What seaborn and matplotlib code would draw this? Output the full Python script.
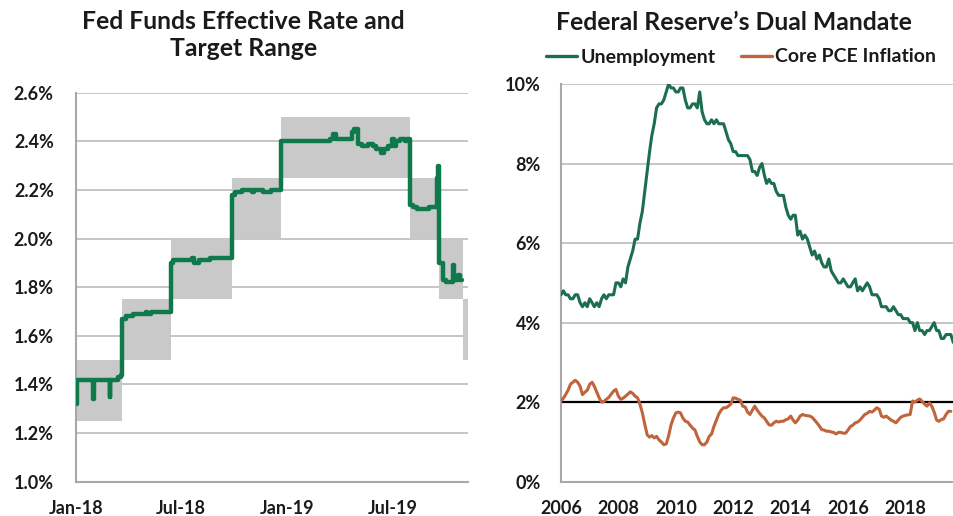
import numpy as np
import pandas as pd
import matplotlib
matplotlib.use("Agg")
import matplotlib.pyplot as plt
import matplotlib.dates as mdates
from matplotlib.ticker import FuncFormatter, MultipleLocator
from matplotlib.lines import Line2D
import seaborn as sns

# ---------------- data: left panel ----------------
effr_dates = [
    "2018-01-02", "2018-01-03", "2018-01-31", "2018-02-01", "2018-02-28", "2018-03-01",
    "2018-03-14", "2018-03-19", "2018-03-22", "2018-03-28", "2018-04-10", "2018-05-01",
    "2018-05-03", "2018-05-10", "2018-06-14", "2018-06-18", "2018-07-02", "2018-07-20",
    "2018-07-23", "2018-08-01", "2018-08-20", "2018-08-31", "2018-09-27", "2018-10-02",
    "2018-10-15", "2018-11-01", "2018-11-05", "2018-11-20", "2018-12-03", "2018-12-20",
    "2019-03-15", "2019-03-20", "2019-03-25", "2019-04-22", "2019-04-26", "2019-05-02",
    "2019-05-10", "2019-05-20", "2019-05-28", "2019-06-03", "2019-06-12", "2019-06-17",
    "2019-06-24", "2019-07-01", "2019-07-03", "2019-07-08", "2019-07-15", "2019-07-22",
    "2019-07-26", "2019-08-01", "2019-08-05", "2019-08-12", "2019-09-03", "2019-09-16",
    "2019-09-17", "2019-09-19", "2019-09-27", "2019-10-01", "2019-10-14", "2019-10-15",
    "2019-10-22", "2019-10-25", "2019-10-29",
]
effr_values = [
    1.32, 1.42, 1.34, 1.42, 1.35, 1.42,
    1.43, 1.44, 1.67, 1.68, 1.69, 1.70,
    1.69, 1.70, 1.90, 1.91, 1.91, 1.92,
    1.90, 1.91, 1.92, 1.92, 2.18, 2.19,
    2.20, 2.19, 2.20, 2.19, 2.20, 2.40,
    2.41, 2.43, 2.41, 2.44, 2.45, 2.39,
    2.38, 2.39, 2.38, 2.37, 2.35, 2.37,
    2.38, 2.41, 2.38, 2.40, 2.41, 2.40,
    2.41, 2.14, 2.13, 2.12, 2.13, 2.25,
    2.30, 1.90, 1.83, 1.82, 1.89, 1.83,
    1.85, 1.83, 1.83,
]
range_start = ["2018-01-01", "2018-03-22", "2018-06-14", "2018-09-27",
               "2018-12-20", "2019-08-01", "2019-09-19", "2019-10-31"]
range_low = [1.25, 1.50, 1.75, 2.00, 2.25, 2.00, 1.75, 1.50]
range_high = [1.50, 1.75, 2.00, 2.25, 2.50, 2.25, 2.00, 1.75]
left_end = "2019-11-08"
left_ticks = ["2018-01-01", "2018-07-01", "2019-01-01", "2019-07-01"]

# ---------------- data: right panel ----------------
unemployment = [
    4.7, 4.8, 4.7, 4.7, 4.6, 4.6, 4.7, 4.7, 4.5, 4.4, 4.5, 4.4,
    4.6, 4.5, 4.4, 4.5, 4.4, 4.6, 4.7, 4.6, 4.7, 4.7, 4.7, 5.0,
    5.0, 4.9, 5.1, 5.0, 5.4, 5.6, 5.8, 6.1, 6.1, 6.5, 6.8, 7.3,
    7.8, 8.3, 8.7, 9.0, 9.4, 9.5, 9.5, 9.6, 9.8, 10.0, 9.9, 9.9,
    9.8, 9.8, 9.9, 9.9, 9.6, 9.4, 9.4, 9.5, 9.5, 9.4, 9.8, 9.3,
    9.1, 9.0, 9.0, 9.1, 9.0, 9.1, 9.0, 9.0, 9.0, 8.8, 8.6, 8.5,
    8.3, 8.3, 8.2, 8.2, 8.2, 8.2, 8.2, 8.1, 7.8, 7.8, 7.7, 7.9,
    8.0, 7.7, 7.5, 7.6, 7.5, 7.5, 7.3, 7.2, 7.2, 7.2, 6.9, 6.7,
    6.6, 6.7, 6.7, 6.2, 6.3, 6.1, 6.2, 6.1, 5.9, 5.7, 5.8, 5.6,
    5.7, 5.5, 5.4, 5.4, 5.6, 5.3, 5.2, 5.1, 5.0, 5.0, 5.1, 5.0,
    4.9, 4.9, 5.0, 5.1, 4.8, 4.9, 4.8, 4.9, 5.0, 4.9, 4.7, 4.7,
    4.7, 4.6, 4.4, 4.4, 4.4, 4.3, 4.3, 4.4, 4.3, 4.2, 4.2, 4.1,
    4.1, 4.1, 4.0, 4.0, 3.8, 4.0, 3.8, 3.8, 3.7, 3.8, 3.8, 3.9,
    4.0, 3.8, 3.8, 3.6, 3.6, 3.7, 3.7, 3.7, 3.5,
]
core_pce = [
    2.03, 2.10, 2.19, 2.30, 2.45, 2.50, 2.55, 2.50, 2.40, 2.19, 2.25, 2.30,
    2.45, 2.50, 2.40, 2.25, 2.11, 2.00, 2.02, 2.07, 2.12, 2.20, 2.28, 2.32,
    2.15, 2.07, 2.10, 2.15, 2.20, 2.26, 2.22, 2.15, 2.11, 1.95, 1.73, 1.45,
    1.18, 1.12, 1.16, 1.10, 1.14, 1.05, 1.00, 0.93, 0.95, 1.15, 1.43, 1.60,
    1.73, 1.75, 1.73, 1.60, 1.52, 1.50, 1.42, 1.35, 1.30, 1.14, 1.00, 0.93,
    0.93, 1.00, 1.14, 1.20, 1.39, 1.55, 1.70, 1.80, 1.86, 1.86, 1.90, 1.95,
    2.11, 2.10, 2.07, 2.05, 1.90, 1.88, 1.75, 1.69, 1.80, 1.90, 1.80, 1.72,
    1.65, 1.60, 1.52, 1.43, 1.42, 1.48, 1.52, 1.50, 1.52, 1.52, 1.56, 1.58,
    1.65, 1.55, 1.48, 1.55, 1.65, 1.69, 1.67, 1.66, 1.65, 1.62, 1.55, 1.48,
    1.40, 1.31, 1.30, 1.27, 1.27, 1.25, 1.24, 1.20, 1.24, 1.24, 1.22, 1.22,
    1.30, 1.39, 1.42, 1.48, 1.50, 1.55, 1.62, 1.69, 1.72, 1.77, 1.75, 1.80,
    1.86, 1.82, 1.65, 1.62, 1.65, 1.60, 1.55, 1.52, 1.48, 1.55, 1.62, 1.65,
    1.67, 1.68, 1.69, 2.03, 2.00, 2.05, 2.08, 2.02, 1.95, 1.90, 1.98, 1.90,
    1.75, 1.55, 1.52, 1.56, 1.58, 1.69, 1.77, 1.77,
]
inflation_target = 2.0
right_start = "2006-01-01"
right_end = "2019-09-10"
right_tick_years = [2006, 2008, 2010, 2012, 2014, 2016, 2018]

# ---------------- style ----------------
GREEN_L = "#0e7a4c"
GREEN_R = "#1b6e4e"
ORANGE = "#c0643c"
RANGE_GRAY = "#c9c9c9"
GRID = "#b5b5b5"
SPINE = "#a8a8a8"
TXT = "#1a1a1a"

sns.set_theme(style="white")
plt.rcParams["font.family"] = ["Lato", "DejaVu Sans"]
plt.rcParams["font.weight"] = "bold"

fig = plt.figure(figsize=(9.54, 5.16), dpi=100)
ax1 = fig.add_axes([76 / 954, 34.3 / 516, 391.7 / 954, 389 / 516])
ax2 = fig.add_axes([561 / 954, 34.3 / 516, 393 / 954, 397.7 / 516])

# ---------- left ----------
effr = pd.DataFrame({"date": pd.to_datetime(effr_dates), "rate": effr_values})
starts = pd.to_datetime(range_start)
ends = list(starts[1:]) + [pd.Timestamp(left_end)]
for s, e, lo, hi in zip(starts, ends, range_low, range_high):
    ax1.fill_between([s, e], lo, hi, color=RANGE_GRAY, lw=0, zorder=1)
sns.lineplot(data=effr, x="date", y="rate", ax=ax1, color=GREEN_L, lw=3.2,
             drawstyle="steps-post", zorder=3, solid_joinstyle="round",
             solid_capstyle="round")
ax1.set_xlim(pd.Timestamp("2018-01-01"), pd.Timestamp(left_end))
ax1.set_ylim(1.0, 2.6)
ax1.yaxis.set_major_locator(MultipleLocator(0.2))
ax1.yaxis.set_major_formatter(FuncFormatter(lambda v, p: f"{v:.1f}%"))
ax1.set_xticks(pd.to_datetime(left_ticks))
ax1.xaxis.set_major_formatter(mdates.DateFormatter("%b-%y"))

# ---------- right ----------
months = pd.date_range(right_start, periods=len(unemployment), freq="MS")
df_u = pd.DataFrame({"date": months, "value": unemployment})
df_p = pd.DataFrame({"date": months[:len(core_pce)], "value": core_pce})
ax2.axhline(inflation_target, color="black", lw=1.6, zorder=2)
sns.lineplot(data=df_u, x="date", y="value", ax=ax2, color=GREEN_R, lw=2.2, zorder=3)
sns.lineplot(data=df_p, x="date", y="value", ax=ax2, color=ORANGE, lw=2.2, zorder=3)
ax2.set_xlim(pd.Timestamp(right_start), pd.Timestamp(right_end))
ax2.set_ylim(0, 10)
ax2.yaxis.set_major_locator(MultipleLocator(2))
ax2.yaxis.set_major_formatter(FuncFormatter(lambda v, p: f"{v:.0f}%"))
ax2.set_xticks([pd.Timestamp(f"{y}-01-01") for y in right_tick_years])
ax2.xaxis.set_major_formatter(mdates.DateFormatter("%Y"))

for ax, ypad in ((ax1, 11), (ax2, 9.5)):
    ax.set_xlabel("")
    ax.set_ylabel("")
    ax.set_axisbelow(True)
    ax.grid(axis="y", color=GRID, lw=1.1)
    ax.grid(axis="x", visible=False)
    for side in ("top", "right"):
        ax.spines[side].set_visible(False)
    for side in ("left", "bottom"):
        ax.spines[side].set_color(SPINE)
        ax.spines[side].set_linewidth(1.5)
    ax.tick_params(axis="both", which="major", direction="out", length=5,
                   width=1.2, color=SPINE, labelsize=13, labelcolor=TXT)
    ax.tick_params(axis="y", pad=ypad)
    ax.tick_params(axis="x", pad=8)
    for lab in ax.get_xticklabels() + ax.get_yticklabels():
        lab.set_fontweight("bold")
    if ax.get_legend() is not None:
        ax.get_legend().remove()

# ---------- titles & legend ----------
fig.text(243.5 / 954, 1 - 29 / 516, "Fed Funds Effective Rate and", ha="center",
         va="baseline", fontsize=17.8, fontweight="bold", color=TXT)
fig.text(243.5 / 954, 1 - 56 / 516, "Target Range", ha="center",
         va="baseline", fontsize=17.8, fontweight="bold", color=TXT)
fig.text(734 / 954, 1 - 30 / 516, "Federal Reserve\u2019s Dual Mandate", ha="center",
         va="baseline", fontsize=17.8, fontweight="bold", color=TXT)

handles = [Line2D([], [], color=GREEN_R, lw=2.4), Line2D([], [], color=ORANGE, lw=2.4)]
leg = fig.legend(handles, ["Unemployment", "Core PCE Inflation"], loc="center",
                 bbox_to_anchor=(741 / 954, 1 - 57 / 516), ncol=2, frameon=False,
                 handlelength=1.6, handletextpad=0.15, columnspacing=1.3,
                 prop={"size": 14, "weight": "bold"})
for t in leg.get_texts():
    t.set_color(TXT)

fig.savefig("out.png", dpi=100)
